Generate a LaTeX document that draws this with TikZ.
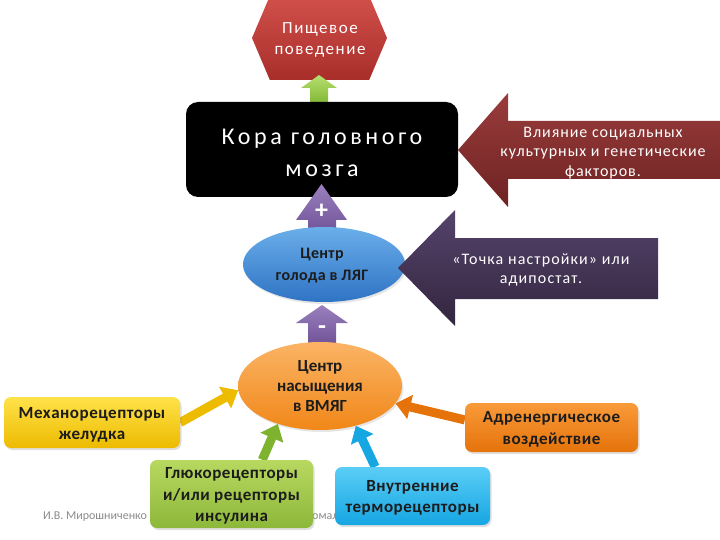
\documentclass[tikz,border=0pt]{standalone}
\usepackage{fontspec}
\setmainfont{Carlito}
\usetikzlibrary{shapes.geometric,shapes.symbols,arrows.meta,shadows,calc}
\pgfdeclarelayer{bg}
\pgfsetlayers{bg,main}
\definecolor{hexTop}{HTML}{D2504B}
\definecolor{hexBot}{HTML}{A82E2A}
\definecolor{grnTop}{HTML}{B5E070}
\definecolor{grnBot}{HTML}{7DB32E}
\definecolor{purTop}{HTML}{9A80BE}
\definecolor{purBot}{HTML}{6A4C92}
\definecolor{bluTop}{HTML}{6AAEEA}
\definecolor{bluBot}{HTML}{2F73C4}
\definecolor{oraTop}{HTML}{FBB465}
\definecolor{oraBot}{HTML}{F08718}
\definecolor{marTop}{HTML}{9A3C3C}
\definecolor{marBot}{HTML}{6E2222}
\definecolor{dpTop}{HTML}{55436B}
\definecolor{dpBot}{HTML}{33263F}
\definecolor{yelTop}{HTML}{FFE24A}
\definecolor{yelBot}{HTML}{EDBB00}
\definecolor{lgTop}{HTML}{B8D860}
\definecolor{lgBot}{HTML}{8DB83A}
\definecolor{cyTop}{HTML}{5ACDF7}
\definecolor{cyBot}{HTML}{16A6E2}
\definecolor{orTop}{HTML}{F99A3A}
\definecolor{orBot}{HTML}{E5730A}
\definecolor{textdark}{HTML}{1C1C1C}
\definecolor{footgray}{HTML}{8A8A8A}
\begin{document}
\begin{tikzpicture}[x=1pt,y=-1pt,
  lbl/.style={align=center, inner sep=0pt},
  boxlbl/.style={lbl, font=\fontsize{17}{21.5}\selectfont\bfseries\addfontfeatures{LetterSpace=3}, text=textdark},
  rbox/.style={rectangle, rounded corners=7pt, inner sep=0pt,
     drop shadow={opacity=0.25, shadow xshift=1.5pt, shadow yshift=-2pt}},
  ell/.style={ellipse, inner sep=0pt, drop shadow={opacity=0.2, shadow xshift=1.5pt, shadow yshift=-2pt}},
  conn/.style={line width=9pt, -{Triangle[width=24pt,length=15pt]}},
  blockarr/.style={draw=none}
]
\useasboundingbox (0,0) rectangle (720,540);

% footer
\node[lbl, font=\fontsize{12}{14}\selectfont, text=footgray] (foot) at (95,517) {И.В. Мирошниченко};
\node[lbl, font=\fontsize{12}{14}\selectfont, text=footgray, anchor=west] (foot2) at (312,517) {омал};

% top hexagon
\node[signal, signal to=west and east, signal pointer angle=134,
      minimum width=135pt, minimum height=84pt, inner sep=0pt,
      top color=hexTop, bottom color=hexBot] (eathex) at (319.5,38) {};
\node[lbl, font=\fontsize{17}{21}\selectfont\addfontfeatures{LetterSpace=9}, text=white] (eat) at (320,40) {Пищевое\\поведение};

% green up arrow
\path[blockarr, top color=grnTop, bottom color=grnBot]
  (319,75) -- (337,88) -- (328,88) -- (328,106) -- (310,106) -- (310,88) -- (301,88) -- cycle;

% cortex
\node[rectangle, rounded corners=12pt, fill=black, minimum width=272pt, minimum height=95pt, inner sep=0pt] (cortex) at (322,149.5) {};
\node[lbl, font=\fontsize{24}{32}\selectfont\addfontfeatures{LetterSpace=15}, text=white] (cortext) at (322,153) {Кора головного\\мозга};

% plus arrow
\path[blockarr, top color=purTop, bottom color=purBot]
  (321.5,184) -- (347,220) -- (336,220) -- (336,240) -- (308,240) -- (308,220) -- (296,220) -- cycle;
\node[lbl, font=\fontsize{26}{26}\selectfont\bfseries, text=white] (plus) at (321.5,211) {+};

% hunger ellipse
\node[ell, minimum width=162pt, minimum height=75pt, top color=bluTop, bottom color=bluBot] (hunger) at (324,264.5) {};
\node[lbl, font=\fontsize{16}{22}\selectfont\bfseries\addfontfeatures{LetterSpace=2}, text=textdark] (huntext) at (322,266) {Центр\\голода в ЛЯГ};

% minus arrow
\path[blockarr, top color=purTop, bottom color=purBot]
  (322,305) -- (348,323) -- (336,323) -- (336,350) -- (308,350) -- (308,323) -- (296,323) -- cycle;
\node[lbl, font=\fontsize{26}{26}\selectfont\bfseries, text=white] (minus) at (322,330) {-};

% maroon left arrow
\path[blockarr, top color=marTop, bottom color=marBot]
  (458,150) -- (508,93) -- (508,121) -- (725,121) -- (725,179) -- (508,179) -- (508,207) -- cycle;
\node[lbl, font=\fontsize{16}{19.5}\selectfont\addfontfeatures{LetterSpace=6}, text=white] (social) at (603,153) {Влияние социальных\\культурных и генетические\\факторов.};

% dark purple left arrow
\path[blockarr, top color=dpTop, bottom color=dpBot]
  (398,268) -- (455,210) -- (455,238) -- (658,238) -- (658,299) -- (455,299) -- (455,326) -- cycle;
\node[lbl, font=\fontsize{16}{18.5}\selectfont\addfontfeatures{LetterSpace=7}, text=white] (setpoint) at (541,270) {«Точка настройки» или\\адипостат.};

% satiety ellipse
\node[ell, minimum width=164pt, minimum height=88pt, top color=oraTop, bottom color=oraBot] (sat) at (320,386) {};
\node[lbl, font=\fontsize{17}{20}\selectfont\bfseries, text=textdark] (sattext) at (320,386) {Центр\\насыщения\\в ВМЯГ};

% boxes
\node[rbox, minimum width=176pt, minimum height=51pt, top color=yelTop, bottom color=yelBot] (mech) at (92,422.5) {};
\node[boxlbl] (mechtext) at (92,425) {Механорецепторы\\желудка};

\node[rbox, minimum width=163pt, minimum height=68pt, top color=lgTop, bottom color=lgBot] (glu) at (231.5,494) {};
\node[boxlbl] (glutext) at (231.5,496) {Глюкорецепторы\\и/или рецепторы\\инсулина};

\node[rbox, minimum width=155pt, minimum height=58pt, top color=cyTop, bottom color=cyBot] (therm) at (412.5,496) {};
\node[boxlbl] (thermtext) at (412.5,498) {Внутренние\\терморецепторы};

\node[rbox, minimum width=173pt, minimum height=49pt, top color=orTop, bottom color=orBot] (adr) at (551.5,427.5) {};
\node[boxlbl] (adrtext) at (551.5,429.5) {Адренергическое\\воздействие};

% connectors
\begin{pgfonlayer}{bg}
\draw[conn, color=yelBot] (mech.east) -- (sat.183);
\draw[conn, color=grnBot] (glu.48) -- (sat.222);
\draw[conn, color=cyBot] (therm.142) -- (sat.312);
\draw[conn, color=orBot] (adr.175) -- (sat.347);
\end{pgfonlayer}
\end{tikzpicture}
\end{document}
